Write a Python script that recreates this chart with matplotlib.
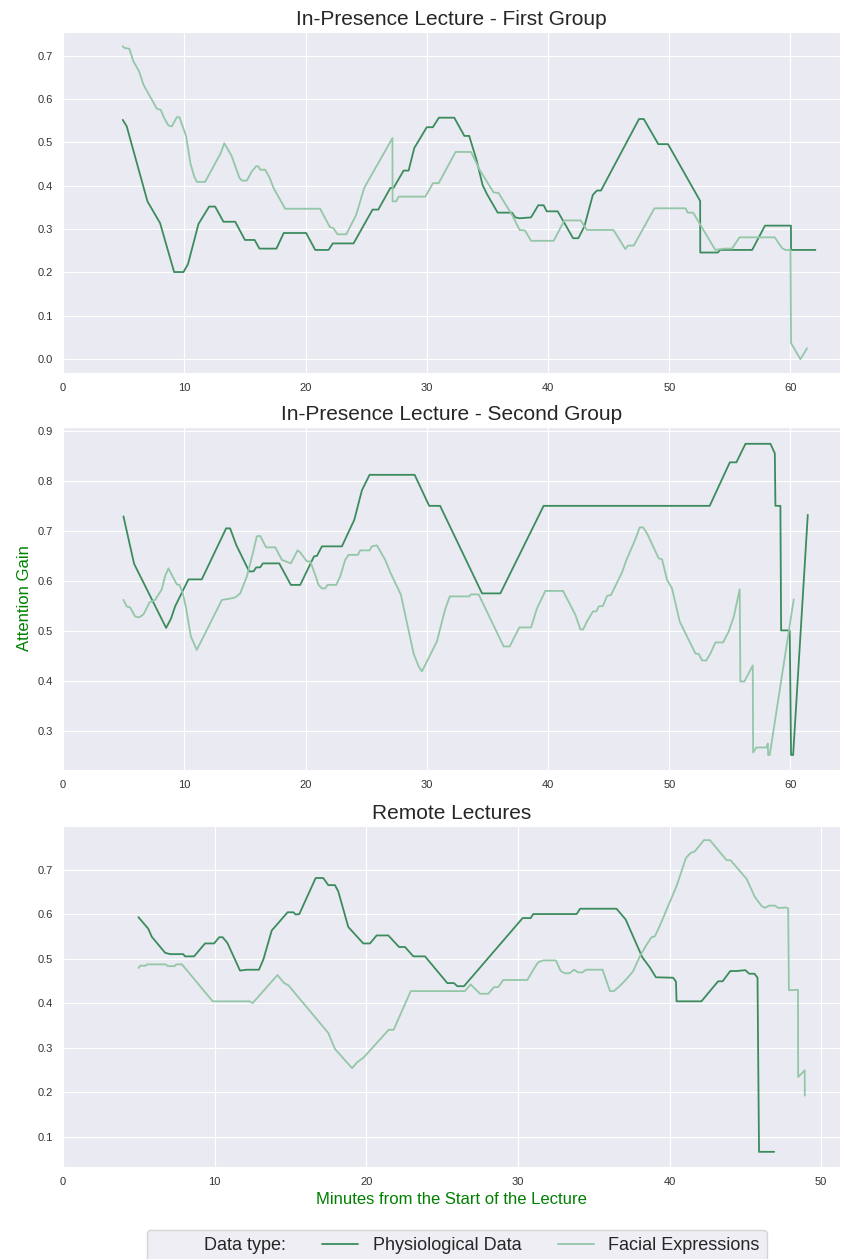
import matplotlib
matplotlib.use("Agg")
import matplotlib.pyplot as plt
from matplotlib.lines import Line2D
import seaborn as sns

sns.set_style("darkgrid")
plt.rcParams['font.family'] = ['Liberation Sans', 'DejaVu Sans']

DARK = "#3b8c5d"
LIGHT = "#94c7a7"

## FIRST GROUP (in presence)

g1_phys_t = [4.92, 5.25, 6.96, 8.0, 9.16, 9.93, 10.3, 11.17, 12.05, 12.54, 13.23, 14.2, 15.0, 15.8,
             16.2, 17.6, 18.2, 20.05, 20.8, 21.9, 22.25, 23.96, 25.53, 26.0, 27.0, 27.26, 28.09,
             28.5, 28.97, 30.0, 30.5, 31.0, 32.27, 33.1, 33.5, 34.1, 34.6, 34.96, 35.85, 37.03,
             37.3, 37.66, 38.6, 39.2, 39.64, 39.9, 40.8, 42.07, 42.5, 43.0, 43.7, 44.04, 44.37,
             47.51, 47.9, 49.1, 49.9, 52.55, 52.56, 54.0, 54.2, 56.84, 57.9, 60.04, 60.05, 62.06]
g1_phys_v = [0.552, 0.537, 0.364, 0.314, 0.201, 0.201, 0.219, 0.312, 0.352, 0.352, 0.317, 0.317, 0.275, 0.275,
             0.255, 0.255, 0.291, 0.291, 0.252, 0.252, 0.267, 0.267, 0.345, 0.345, 0.395, 0.395, 0.435,
             0.435, 0.487, 0.535, 0.535, 0.557, 0.557, 0.515, 0.515, 0.46, 0.402, 0.381, 0.338, 0.338,
             0.327, 0.325, 0.327, 0.355, 0.355, 0.341, 0.341, 0.279, 0.279, 0.306, 0.379, 0.389, 0.389,
             0.554, 0.554, 0.496, 0.496, 0.365, 0.246, 0.246, 0.252, 0.252, 0.308, 0.308, 0.252, 0.252]

g1_face_t = [4.92, 5.06, 5.47, 5.8, 6.27, 6.63, 7.73, 8.06, 8.34, 8.69, 8.97, 9.38, 9.6, 10.15, 10.5,
             10.81, 11.03, 11.72, 13.0, 13.3, 13.9, 14.55, 14.75, 15.16, 15.57, 15.93, 16.1, 16.26,
             16.67, 17.03, 17.36, 18.32, 21.2, 22.0, 22.3, 22.64, 23.36, 24.18, 24.84, 27.17, 27.18,
             27.48, 27.68, 29.88, 30.51, 30.98, 32.38, 33.65, 34.36, 35.5, 35.93, 37.03, 37.66, 38.1,
             38.6, 40.47, 41.35, 42.7, 43.2, 45.4, 46.38, 46.6, 47.07, 48.78, 51.34, 51.53, 51.97,
             53.8, 54.5, 55.18, 55.8, 58.7, 59.31, 59.59, 60.0, 60.05, 60.82, 61.37]
g1_face_v = [0.722, 0.718, 0.716, 0.687, 0.664, 0.633, 0.578, 0.575, 0.556, 0.539, 0.537, 0.558, 0.558, 0.514, 0.452,
             0.422, 0.409, 0.409, 0.475, 0.498, 0.469, 0.418, 0.412, 0.412, 0.433, 0.445, 0.445, 0.437,
             0.437, 0.419, 0.395, 0.347, 0.347, 0.305, 0.302, 0.288, 0.288, 0.333, 0.395, 0.51, 0.364,
             0.364, 0.375, 0.375, 0.406, 0.406, 0.478, 0.478, 0.437, 0.385, 0.383, 0.333, 0.298, 0.297,
             0.273, 0.273, 0.32, 0.32, 0.298, 0.298, 0.254, 0.262, 0.262, 0.348, 0.348, 0.338, 0.338,
             0.252, 0.255, 0.255, 0.281, 0.281, 0.256, 0.252, 0.252, 0.037, 0.0, 0.025]

## SECOND GROUP (in presence)

g2_phys_t = [4.98, 5.86, 8.5, 8.91, 9.24, 10.34, 11.44, 13.45, 13.78, 14.28, 15.35, 15.71, 15.93, 16.26,
             16.48, 17.83, 18.79, 19.56, 20.7, 20.94, 21.35, 23.0, 24.02, 24.65, 25.28, 29.0, 30.2,
             31.1, 34.56, 36.07, 39.64, 53.34, 55.0, 55.54, 56.29, 58.35, 58.71, 58.76, 59.17, 59.23,
             59.94, 60.05, 60.22, 61.43]
g2_phys_v = [0.729, 0.634, 0.506, 0.525, 0.549, 0.603, 0.603, 0.705, 0.705, 0.672, 0.619, 0.619, 0.627, 0.627,
             0.635, 0.635, 0.592, 0.592, 0.649, 0.65, 0.669, 0.669, 0.722, 0.781, 0.812, 0.812, 0.75,
             0.75, 0.575, 0.575, 0.75, 0.75, 0.837, 0.837, 0.874, 0.874, 0.855, 0.75, 0.75, 0.501,
             0.501, 0.252, 0.252, 0.732]

g2_face_t = [4.98, 5.25, 5.53, 5.94, 6.27, 6.63, 7.13, 7.59, 8.14, 8.42, 8.69, 9.38, 9.6, 9.88, 10.15,
             10.54, 11.03, 13.1, 13.65, 14.2, 14.61, 15.16, 15.65, 15.98, 16.26, 16.75, 17.5, 18.05,
             18.79, 19.34, 19.56, 20.11, 20.39, 20.8, 21.07, 21.35, 21.62, 21.82, 22.53, 22.86, 23.27,
             23.55, 24.32, 24.51, 25.28, 25.47, 25.89, 26.57, 26.99, 27.87, 28.91, 29.33, 29.6, 30.84,
             31.5, 31.9, 33.5, 33.64, 34.28, 36.34, 36.84, 37.64, 38.6, 39.09, 39.78, 41.24, 42.26,
             42.67, 42.9, 43.22, 43.71, 43.99, 44.19, 44.54, 44.87, 45.2, 46.11, 46.47, 47.15, 47.57,
             47.84, 48.17, 49.13, 49.41, 49.82, 50.23, 50.86, 52.16, 52.43, 52.71, 53.06, 53.4, 53.81,
             54.44, 54.91, 55.33, 55.81, 55.87, 56.2, 56.89, 56.92, 57.19, 58.02, 58.13, 58.16, 58.29,
             60.27]
g2_face_v = [0.562, 0.549, 0.547, 0.529, 0.527, 0.533, 0.557, 0.562, 0.583, 0.61, 0.625, 0.593, 0.592, 0.575, 0.545,
             0.489, 0.462, 0.562, 0.564, 0.567, 0.575, 0.609, 0.655, 0.689, 0.69, 0.667, 0.667, 0.642,
             0.635, 0.661, 0.657, 0.639, 0.639, 0.612, 0.592, 0.585, 0.585, 0.592, 0.592, 0.609, 0.642,
             0.652, 0.652, 0.661, 0.661, 0.669, 0.671, 0.642, 0.617, 0.572, 0.455, 0.429, 0.419, 0.479,
             0.542, 0.569, 0.569, 0.573, 0.573, 0.469, 0.469, 0.507, 0.507, 0.545, 0.58, 0.58, 0.532,
             0.503, 0.503, 0.519, 0.539, 0.539, 0.549, 0.55, 0.57, 0.572, 0.617, 0.642, 0.68, 0.707,
             0.707, 0.695, 0.645, 0.643, 0.602, 0.585, 0.519, 0.455, 0.454, 0.441, 0.441, 0.455, 0.477,
             0.477, 0.499, 0.529, 0.583, 0.399, 0.399, 0.431, 0.257, 0.267, 0.267, 0.275, 0.252, 0.252,
             0.563]

## REMOTE LECTURES

rem_phys_t = [4.97, 5.62, 5.85, 6.73, 7.06, 7.93, 8.04, 8.64, 9.36, 9.96, 10.3, 10.52, 10.84, 11.67,
              12.11, 12.92, 13.21, 13.76, 14.81, 15.19, 15.34, 15.58, 16.66, 17.16, 17.49, 17.93,
              18.15, 18.81, 19.8, 20.24, 20.68, 21.45, 22.16, 22.55, 23.1, 23.87, 25.34, 25.78, 26.0,
              26.44, 30.31, 30.84, 31.01, 33.87, 34.1, 36.5, 37.1, 38.2, 38.7, 39.1, 40.24, 40.42,
              40.46, 42.1, 43.2, 43.5, 44.0, 44.4, 45.0, 45.25, 45.6, 45.8, 45.85, 45.9, 46.9]
rem_phys_v = [0.593, 0.567, 0.549, 0.513, 0.51, 0.51, 0.505, 0.505, 0.534, 0.534, 0.548, 0.548, 0.535, 0.473,
              0.475, 0.475, 0.498, 0.563, 0.604, 0.604, 0.599, 0.6, 0.681, 0.681, 0.665, 0.665,
              0.651, 0.571, 0.534, 0.534, 0.552, 0.552, 0.526, 0.526, 0.505, 0.505, 0.445, 0.445, 0.438,
              0.438, 0.591, 0.591, 0.6, 0.6, 0.612, 0.612, 0.588, 0.503, 0.48, 0.458, 0.457, 0.448,
              0.404, 0.404, 0.449, 0.449, 0.472, 0.472, 0.474, 0.466, 0.466, 0.457, 0.254, 0.066, 0.066]

rem_face_t = [4.97, 5.1, 5.45, 5.54, 6.76, 6.92, 7.35, 7.46, 7.84, 9.87, 12.32, 12.5, 14.14, 14.58,
              14.86, 17.49, 17.93, 19.06, 19.39, 19.83, 21.47, 21.8, 22.24, 22.93, 26.5, 26.88, 27.5,
              28.04, 28.42, 28.7, 29.03, 30.62, 31.01, 31.34, 31.67, 32.5, 32.82, 33.1, 33.39, 33.7,
              33.98, 34.26, 34.48, 35.58, 36.07, 36.33, 36.73, 37.16, 37.6, 38.04, 38.48, 38.81, 39.03,
              39.36, 40.46, 41.08, 41.38, 41.67, 42.26, 42.66, 43.76, 44.02, 45.08, 45.63, 46.07,
              46.29, 46.57, 46.95, 47.16, 47.45, 47.6, 47.82, 47.87, 48.47, 48.48, 48.91, 48.92]
rem_face_v = [0.479, 0.484, 0.484, 0.487, 0.487, 0.483, 0.483, 0.487, 0.487, 0.404, 0.404, 0.4, 0.463, 0.445,
              0.44, 0.333, 0.297, 0.254, 0.267, 0.278, 0.34, 0.34, 0.374, 0.427, 0.427, 0.442, 0.421,
              0.421, 0.436, 0.436, 0.452, 0.452, 0.475, 0.492, 0.496, 0.496, 0.472, 0.467, 0.467, 0.475,
              0.469, 0.469, 0.475, 0.475, 0.427, 0.427, 0.439, 0.454, 0.472, 0.505, 0.531, 0.548, 0.55,
              0.574, 0.663, 0.726, 0.737, 0.741, 0.766, 0.766, 0.721, 0.721, 0.679, 0.638, 0.618,
              0.614, 0.619, 0.619, 0.614, 0.614, 0.615, 0.613, 0.429, 0.43, 0.234, 0.249, 0.192]

titles = ["In-Presence Lecture - First Group", "In-Presence Lecture - Second Group", "Remote Lectures"]
series = [(g1_phys_t, g1_phys_v, g1_face_t, g1_face_v),
          (g2_phys_t, g2_phys_v, g2_face_t, g2_face_v),
          (rem_phys_t, rem_phys_v, rem_face_t, rem_face_v)]
x_right = [64.1, 64.1, 51.25]
y_lims = [(-0.032, 0.755), (0.222, 0.908), (0.032, 0.798)]

fig = plt.figure(figsize=(8.41, 12.59), dpi=100)

# axes boxes in figure fractions (left, bottom, width, height)
boxes = [(0.075, 0.7037, 0.924, 0.271),
         (0.075, 0.3884, 0.924, 0.2726),
         (0.075, 0.0731, 0.924, 0.2709)]

axes = []
for i in range(3):
    ax = fig.add_axes(boxes[i])
    pt, pv, ft, fv = series[i]
    ax.plot(pt, pv, color=DARK, lw=1.3)
    ax.plot(ft, fv, color=LIGHT, lw=1.3)
    ax.set_xlim(0, x_right[i])
    ax.set_ylim(*y_lims[i])
    ax.set_title(titles[i], fontsize=15, color="#262626", pad=5)
    ax.tick_params(labelsize=8, colors="#333333", length=0, pad=7)
    axes.append(ax)

axes[1].set_ylabel("Attention Gain", color="green", fontsize=12)
axes[2].set_xlabel("Minutes from the Start of the Lecture", color="green", fontsize=12, labelpad=4)

handles = [Line2D([], [], color="none"),
           Line2D([], [], color=DARK, lw=1.3),
           Line2D([], [], color=LIGHT, lw=1.3)]
labels = ["Data type:", "Physiological Data", "Facial Expressions"]
fig.legend(handles, labels, loc="upper center", ncol=3, fontsize=13,
           bbox_to_anchor=(0.543, 0.023), borderaxespad=0, frameon=True, borderpad=0.4)

fig.savefig("out.png", dpi=100)
